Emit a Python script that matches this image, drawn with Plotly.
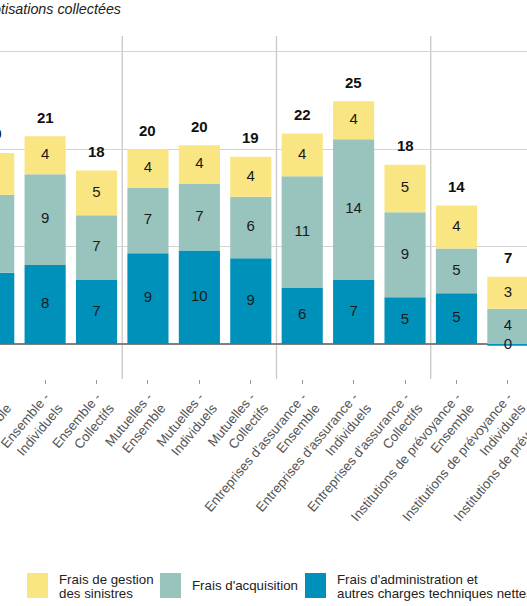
import plotly.graph_objects as go

# ---------------- data ----------------
categories = [
    "Ensemble -<br>Ensemble", "Ensemble -<br>Individuels", "Ensemble -<br>Collectifs",
    "Mutuelles -<br>Ensemble", "Mutuelles -<br>Individuels", "Mutuelles -<br>Collectifs",
    "Entreprises d'assurance -<br>Ensemble", "Entreprises d'assurance -<br>Individuels",
    "Entreprises d'assurance -<br>Collectifs",
    "Institutions de prévoyance -<br>Ensemble", "Institutions de prévoyance -<br>Individuels",
    "Institutions de prévoyance -<br>Collectifs",
]
frais_admin = [7.3, 8.1, 6.6, 9.3, 9.6, 8.8, 5.8, 6.6, 4.8, 5.2, -0.2, 5.5]
frais_acquisition = [8.0, 9.3, 6.6, 6.7, 6.8, 6.3, 11.4, 14.4, 8.7, 4.6, 3.6, 4.7]
frais_sinistres = [4.3, 3.9, 4.6, 4.0, 4.0, 4.1, 4.4, 3.9, 4.9, 4.4, 3.3, 4.4]
group_separators = [2.5, 5.5, 8.5]
name_sinistres = "Frais de gestion<br>des sinistres"
name_acquisition = "Frais d'acquisition"
name_admin = "Frais d'administration et<br>autres charges techniques nettes"
title_text = "En % des cotisations collectées"

# ---------------- style ----------------
YELLOW = "#FAE583"
TEAL = "#98C4BD"
BLUE = "#0091BA"
FONT = "Liberation Sans, Arial, sans-serif"

# full chart is wider than the window; it is shown shifted left (cropped view)
SHIFT = 80
W, H = 720, 606
ML, MR, MT, MB = 48, 55, 36, 227
PW, PH = W - ML - MR, H - MT - MB


def px(xpage):
    return (xpage + SHIFT - ML) / PW


def py(ypage):
    return (H - MB - ypage) / PH


def lab(v):
    return str(int(round(v)))


series = [(frais_admin, name_admin, BLUE),
          (frais_acquisition, name_acquisition, TEAL),
          (frais_sinistres, name_sinistres, YELLOW)]

fig = go.Figure()
for vals, name, color in series:
    fig.add_bar(
        x=categories, y=vals, name=name,
        marker=dict(color=color, line=dict(width=0)),
        hoverinfo="skip", showlegend=False,
    )

# segment labels, centred in each stacked segment (drawn above all bars)
lab_x, lab_y, lab_t = [], [], []
for i, cat in enumerate(categories):
    pos_base, neg_base = 0.0, 0.0
    for vals, _, _ in series:
        v = vals[i]
        if v >= 0:
            mid = pos_base + v / 2
            pos_base += v
        else:
            mid = neg_base + v / 2
            neg_base += v
        lab_x.append(cat)
        lab_y.append(mid)
        lab_t.append(lab(v))
fig.add_scatter(x=lab_x, y=lab_y, text=lab_t, mode="text", textposition="middle center",
                textfont=dict(family=FONT, size=15, color="#1a1a1a"),
                hoverinfo="skip", showlegend=False, cliponaxis=False)

# totals above the bars
for i, cat in enumerate(categories):
    parts = [frais_admin[i], frais_acquisition[i], frais_sinistres[i]]
    total = sum(parts)
    top = sum(p for p in parts if p > 0)
    fig.add_annotation(
        x=cat, y=top, xref="x", yref="y", text="<b>%s</b>" % lab(total),
        showarrow=False, yanchor="middle", yshift=19,
        font=dict(family=FONT, size=15, color="#111"),
    )

# vertical separators between the groups
for xs in group_separators:
    fig.add_shape(type="line", xref="x", yref="paper", x0=xs, x1=xs, y0=0, y1=1,
                  line=dict(color="#C8C8C8", width=1.3), layer="below")

# legend (drawn by hand to get the large swatches)
legend_items = [(name_sinistres, YELLOW, 27), (name_acquisition, TEAL, 160), (name_admin, BLUE, 305)]
for name, color, x0 in legend_items:
    fig.add_shape(type="rect", xref="paper", yref="paper",
                  x0=px(x0), x1=px(x0 + 21), y0=py(598), y1=py(573),
                  fillcolor=color, line=dict(width=0))
    lines = name.split("<br>")
    if len(lines) == 1:
        ys = [585.5]
    else:
        ys = [579, 593]
    for ln, yy in zip(lines, ys):
        fig.add_annotation(x=px(x0 + 30), y=py(yy), xref="paper", yref="paper",
                           text=ln, showarrow=False, xanchor="left", yanchor="middle",
                           font=dict(family=FONT, size=13.3, color="#222"))

fig.update_layout(
    width=W, height=H,
    margin=dict(l=ML, r=MR, t=MT, b=MB, pad=0),
    barmode="relative", bargap=0.2,
    plot_bgcolor="white", paper_bgcolor="white",
    font=dict(family=FONT, size=13, color="#444"),
    showlegend=False,
    title=dict(text="<i>%s</i>" % title_text, xref="container", yref="container",
               x=(SHIFT + 121) / W, xanchor="right", y=1 - 8.5 / H, yanchor="middle",
               font=dict(family=FONT, size=14.3, color="#222")),
)
fig.update_xaxes(range=[-0.5, len(categories) - 0.5], tickangle=-50, ticks="outside",
                 ticklen=4, tickcolor="#999", tickwidth=1, showgrid=False, showline=False,
                 tickfont=dict(family=FONT, size=13.3, color="#555"))
fig.update_yaxes(range=[-3.6, 31.6], tickvals=[0, 10, 20, 30], showticklabels=False,
                 showgrid=True, gridcolor="#D3D3D3", gridwidth=1.3,
                 zeroline=True, zerolinecolor="#808080", zerolinewidth=1.5)

post = (
    "var gd=document.getElementById('{plot_id}');"
    "document.documentElement.style.overflow='hidden';"
    "document.body.style.margin='0';document.body.style.overflow='hidden';"
    "gd.style.marginLeft='-%dpx';" % SHIFT
)
fig.write_html("out.html", post_script=post)
